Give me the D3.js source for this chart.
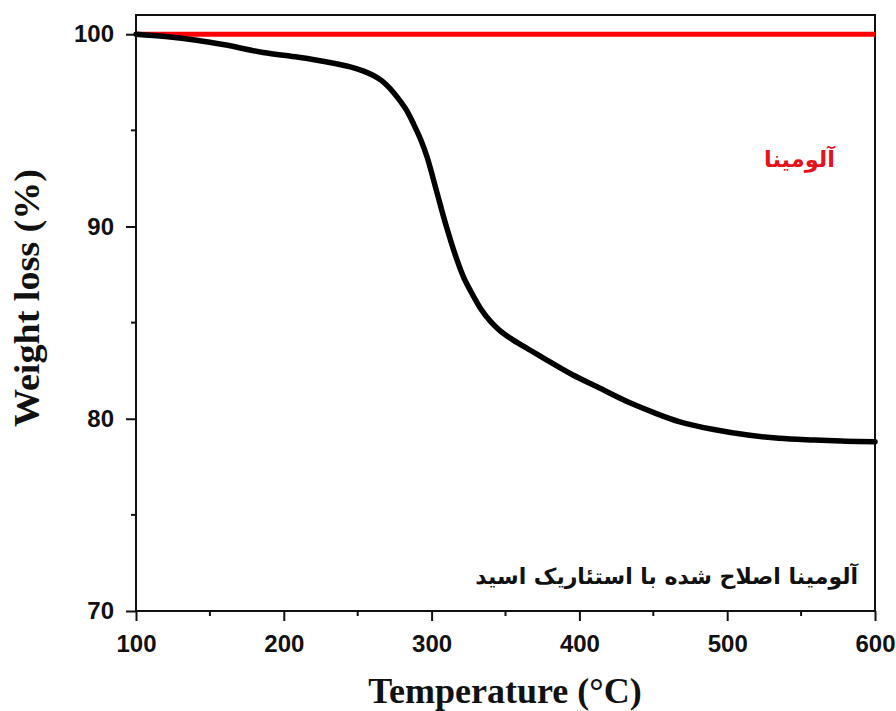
<!DOCTYPE html>
<html>
<head>
<meta charset="utf-8">
<script src="https://cdn.jsdelivr.net/npm/d3@7"></script>
<style>
  body { margin: 0; background: #fff; }
  svg { display: block; }
</style>
</head>
<body>
<svg id="chart"></svg>
<script>
// TGA curves
const temperature = [100, 120, 141, 160, 186, 210, 231, 245, 254, 260, 266, 271, 277, 283, 288, 293, 297, 303.5, 310, 317, 322, 326, 333, 340, 346, 355, 367, 378, 395, 412, 435, 450, 468, 490, 514, 535, 559, 580, 600];
const modifiedWeight = [100, 99.88, 99.69, 99.45, 99.05, 98.8, 98.53, 98.3, 98.08, 97.88, 97.6, 97.25, 96.7, 96.05, 95.3, 94.45, 93.6, 91.8, 90.0, 88.3, 87.3, 86.7, 85.75, 85.05, 84.6, 84.1, 83.55, 83.05, 82.3, 81.66, 80.8, 80.33, 79.84, 79.45, 79.15, 78.98, 78.89, 78.83, 78.8];
const aluminaTemp = [100, 600];
const aluminaWeight = [100, 100];

const xTicks = [100, 200, 300, 400, 500, 600];
const xMinor = [150, 250, 350, 450, 550];
const yTicks = [70, 80, 90, 100];
const yMinor = [75, 85, 95];

const labelAlumina = "آلومینا";
const labelModified = "آلومینا اصلاح شده با استئاریک اسید";

const width = 896, height = 711;
const margin = {top: 15, right: 21, bottom: 100, left: 136};

const svg = d3.select("#chart").attr("width", width).attr("height", height);

const x = d3.scaleLinear().domain([100, 600]).range([margin.left, width - margin.right]);
const y = d3.scaleLinear().domain([70, 101]).range([height - margin.bottom, margin.top]);

const tickFont = "bold 24px 'Liberation Sans', Arial, sans-serif";

// x axis
const xAxis = svg.append("g").attr("transform", `translate(0,${y(70)})`);
xAxis.call(d3.axisBottom(x).tickValues(xTicks).tickSize(10).tickPadding(14))
    .call(g => g.select(".domain").remove());
xAxis.selectAll("text").style("font", tickFont).attr("fill", "#111");
xAxis.selectAll(".tick line").attr("stroke", "#111").attr("stroke-width", 2);
xAxis.append("g").selectAll("line").data(xMinor).join("line")
    .attr("x1", d => x(d)).attr("x2", d => x(d))
    .attr("y1", 0).attr("y2", 5)
    .attr("stroke", "#111").attr("stroke-width", 2);

// y axis
const yAxis = svg.append("g").attr("transform", `translate(${x(100)},0)`);
yAxis.call(d3.axisLeft(y).tickValues(yTicks).tickSize(10).tickPadding(12))
    .call(g => g.select(".domain").remove());
yAxis.selectAll("text").style("font", tickFont).attr("fill", "#111");
yAxis.selectAll(".tick line").attr("stroke", "#111").attr("stroke-width", 2);
yAxis.append("g").selectAll("line").data(yMinor).join("line")
    .attr("y1", d => y(d)).attr("y2", d => y(d))
    .attr("x1", 0).attr("x2", -5)
    .attr("stroke", "#111").attr("stroke-width", 2);

// frame
svg.append("rect")
    .attr("x", x(100)).attr("y", y(101))
    .attr("width", x(600) - x(100)).attr("height", y(70) - y(101))
    .attr("fill", "none").attr("stroke", "#111").attr("stroke-width", 2);

const line = d3.line()
    .x(d => x(d[0]))
    .y(d => y(d[1]))
    .curve(d3.curveCatmullRom.alpha(0.5));

svg.append("path")
    .datum(aluminaTemp.map((t, i) => [t, aluminaWeight[i]]))
    .attr("d", line)
    .attr("fill", "none").attr("stroke", "#ff0000").attr("stroke-width", 5);

svg.append("path")
    .datum(temperature.map((t, i) => [t, modifiedWeight[i]]))
    .attr("d", line)
    .attr("fill", "none").attr("stroke", "#000").attr("stroke-width", 5.5)
    .attr("stroke-linejoin", "round").attr("stroke-linecap", "round");

// series labels
const arabicFont = "'DejaVu Sans', sans-serif";
svg.append("text")
    .attr("x", 835).attr("y", 167)
    .attr("text-anchor", "end")
    .style("font-family", arabicFont).style("font-weight", "bold").style("font-size", "22.5px")
    .attr("fill", "#e8101a")
    .text(labelAlumina);

svg.append("text")
    .attr("x", 858).attr("y", 584)
    .attr("text-anchor", "end")
    .style("font-family", arabicFont).style("font-weight", "bold").style("font-size", "22px")
    .attr("fill", "#111")
    .text(labelModified);

// axis titles
const titleFont = "'Liberation Serif', 'Times New Roman', serif";
svg.append("text")
    .attr("x", 505).attr("y", 703)
    .attr("text-anchor", "middle")
    .style("font-family", titleFont).style("font-weight", "bold").style("font-size", "36px")
    .attr("fill", "#111")
    .text("Temperature (°C)");

svg.append("text")
    .attr("transform", "translate(39,298) rotate(-90)")
    .attr("text-anchor", "middle")
    .attr("textLength", 258).attr("lengthAdjust", "spacingAndGlyphs")
    .style("font-family", titleFont).style("font-weight", "bold").style("font-size", "36px")
    .attr("fill", "#111")
    .text("Weight loss (%)");
</script>
</body>
</html>
